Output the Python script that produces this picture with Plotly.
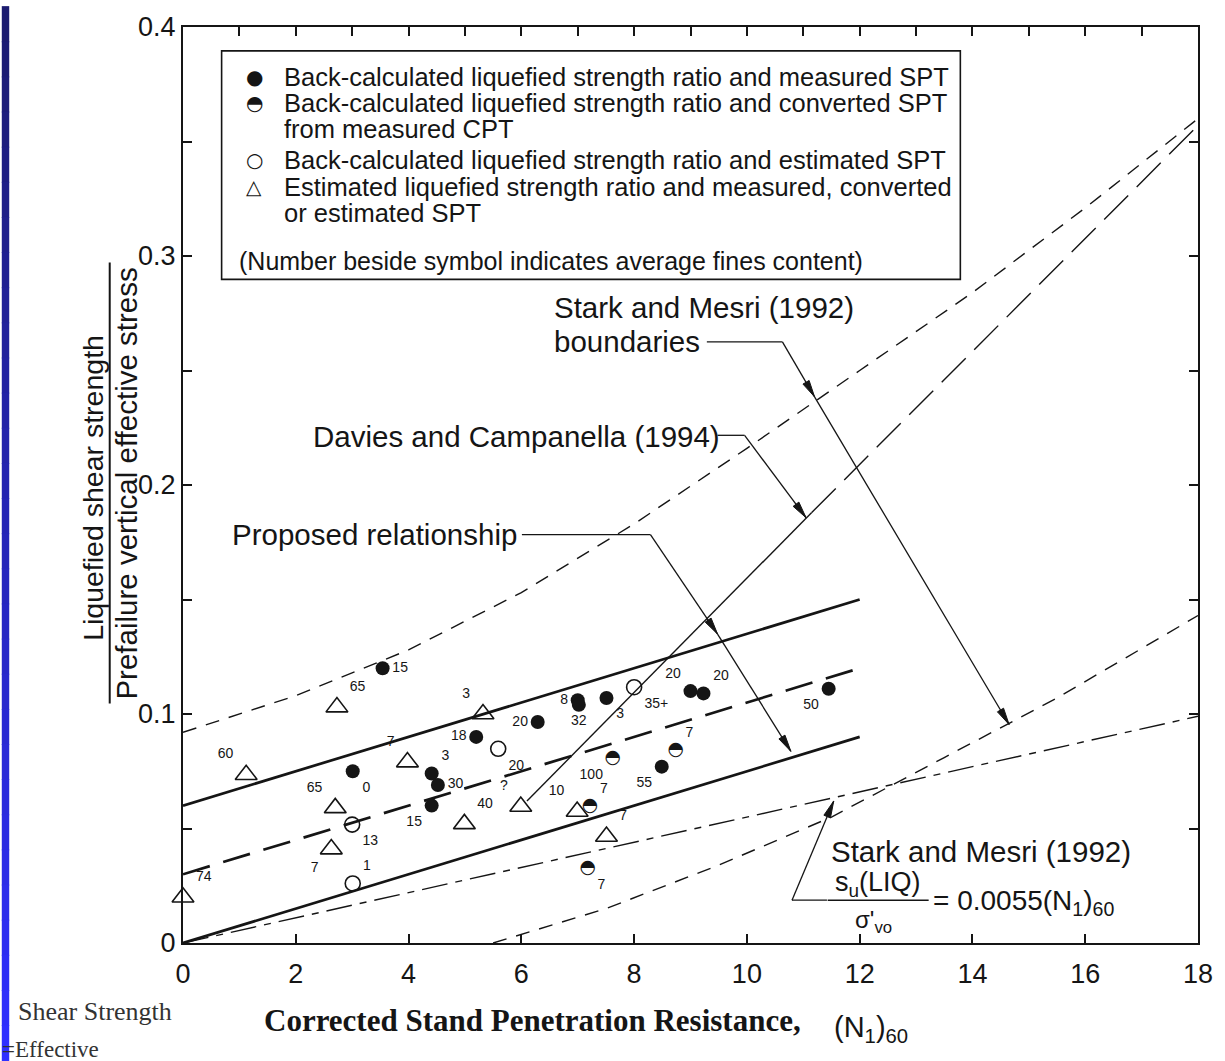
import math
import plotly.graph_objects as go

# ---------------- data ----------------
# Proposed relationship: centre line and band
prop_n = [0, 12]
prop_upper = [0.06, 0.15]
prop_mid = [0.03, 0.12]
prop_lower = [0.0, 0.09]

# Stark and Mesri (1992) boundaries
sm_up_n = [0, 2, 4, 6, 8, 10, 12, 14, 16, 18]
sm_up_r = [0.092, 0.108, 0.128, 0.153, 0.183, 0.216, 0.25, 0.284, 0.321, 0.36]
sm_lo_n = [5.5, 7.5, 9.5, 11.5, 13.5, 15.5, 18]
sm_lo_r = [0.0, 0.015, 0.034, 0.055, 0.081, 0.107, 0.143]

# Stark and Mesri (1992) su(LIQ)/s'vo = 0.0055 (N1)60
sm_line_n = [0, 18]
sm_line_r = [0.0, 0.099]

# Davies and Campanella (1994)
dc_solid_n = [6.1, 11.15]
dc_solid_r = [0.062, 0.188]
dc_dash_n = [11.15, 18]
dc_dash_r = [0.188, 0.357]

# Back-calculated strength ratio, measured SPT (filled circles)
meas_n = [3.54, 3.01, 4.41, 4.52, 4.41, 5.20, 6.29, 7.00, 7.02, 7.51, 9.00, 9.23, 11.45, 8.49]
meas_r = [0.120, 0.075, 0.074, 0.069, 0.060, 0.090, 0.0965, 0.106, 0.104, 0.107, 0.110, 0.109, 0.111, 0.077]
meas_fc = ["15", "0", "3", "30", "15", "18", "20", "8", "32", "3", "20", "20", "50", "55"]

# Back-calculated strength ratio, SPT converted from CPT (half-filled circles)
cpt_n = [7.62, 8.74, 7.22, 7.18]
cpt_r = [0.0806, 0.0843, 0.0596, 0.0326]
cpt_fc = ["100", "7", "7", "7"]

# Back-calculated strength ratio, estimated SPT (open circles)
est_n = [5.59, 8.00, 3.00, 3.01]
est_r = [0.0848, 0.1117, 0.0517, 0.026]
est_fc = ["20", "35+", "13", "1"]

# Estimated strength ratio (triangles)
tri_n = [2.73, 1.12, 3.98, 5.32, 4.99, 2.70, 2.63, 5.99, 6.99, 7.51, 0.0]
tri_r = [0.103, 0.0735, 0.079, 0.100, 0.052, 0.059, 0.041, 0.0596, 0.0574, 0.0465, 0.02]
tri_fc = ["65", "60", "7", "3", "40", "65", "7", "?", "10", "7", "74"]

x_tick_vals = [0, 2, 4, 6, 8, 10, 12, 14, 16, 18]
x_tick_text = ["0", "2", "4", "6", "8", "10", "12", "14", "16", "18"]
y_tick_vals = [0, 0.1, 0.2, 0.3, 0.4]
y_tick_text = ["0", "0.1", "0.2", "0.3", "0.4"]

# ---------------- styling helpers ----------------
W, H = 1225, 1061
L, R, T, B = 183, 17, 21, 118
PW, PH = W - L - R, H - T - B
XMAX, YMAX = 18, 0.4
INK = "#151515"
SANS = "Liberation Sans, Arial, Helvetica, sans-serif"
NARROW = "Liberation Sans Narrow, Arial Narrow, Liberation Sans, sans-serif"
SERIF = "Liberation Serif, Times New Roman, serif"


def pxx(x):
    return (x - L) / PW


def pxy(y):
    return (H - B - y) / PH


meas_pos = ["middle right", "bottom right", "top right", "middle right", "bottom left", "middle left",
            "middle left", "middle left", "bottom center", "bottom right", "top left", "top right",
            "bottom left", "bottom left"]
cpt_pos = ["bottom left", "top right", "top right", "bottom right"]
est_pos = ["bottom right", "bottom right", "bottom right", "top right"]
tri_pos = ["top right", "top left", "top left", "top left", "top right", "top left", "bottom left",
           "top left", "top left", "top right", "top right"]

fig = go.Figure()


def add_line(xs, ys, width, dash=None):
    fig.add_trace(go.Scatter(x=xs, y=ys, mode="lines", hoverinfo="skip", showlegend=False,
                             line=dict(color=INK, width=width, dash=dash)))


add_line(sm_up_n, sm_up_r, 1.4, "14px,10px")
add_line(sm_lo_n, sm_lo_r, 1.4, "14px,10px")
add_line(sm_line_n, sm_line_r, 1.4, "26px,8px,7px,8px")
add_line(dc_solid_n, dc_solid_r, 1.4)
add_line(dc_dash_n, dc_dash_r, 1.4, "34px,12px")
add_line(prop_n, prop_upper, 2.7)
add_line(prop_n, prop_mid, 2.7, "28px,14px")
add_line(prop_n, prop_lower, 2.7)

lab_font = dict(family=NARROW, size=14, color=INK)

fig.add_trace(go.Scatter(x=meas_n, y=meas_r, mode="markers+text", text=meas_fc, textposition=meas_pos,
                         textfont=lab_font, hoverinfo="skip", showlegend=False,
                         marker=dict(symbol="circle", size=14, color=INK)))
fig.add_trace(go.Scatter(x=est_n, y=est_r, mode="markers+text", text=est_fc, textposition=est_pos,
                         textfont=lab_font, hoverinfo="skip", showlegend=False,
                         marker=dict(symbol="circle-open", size=15, color=INK, line=dict(width=1.6))))
fig.add_trace(go.Scatter(x=tri_n, y=tri_r, mode="markers+text", text=tri_fc, textposition=tri_pos,
                         textfont=lab_font, hoverinfo="skip", showlegend=False, cliponaxis=False,
                         marker=dict(symbol="triangle-up-open", size=19, color=INK, line=dict(width=1.6))))
# half-filled circles: glyph plus labels
fig.add_trace(go.Scatter(x=cpt_n, y=cpt_r, mode="text", text=["◓"] * len(cpt_n),
                         textposition="middle center", hoverinfo="skip", showlegend=False,
                         textfont=dict(family="DejaVu Sans", size=19, color=INK)))
fig.add_trace(go.Scatter(x=cpt_n, y=cpt_r, mode="markers+text", text=cpt_fc, textposition=cpt_pos,
                         textfont=lab_font, hoverinfo="skip", showlegend=False,
                         marker=dict(symbol="circle", size=14, color="rgba(0,0,0,0)")))
# dummy trace so the top axis (ticks every unit) is drawn
fig.add_trace(go.Scatter(x=[0], y=[0], xaxis="x2", mode="markers", marker=dict(opacity=0),
                         hoverinfo="skip", showlegend=False))

shapes = []
annotations = []

# left blue strip
n_seg = 30
for i in range(n_seg):
    f = i / (n_seg - 1)
    r_ = int(28 + (48 - 28) * f)
    g_ = int(28 + (48 - 28) * f)
    b_ = int(112 + (255 - 112) * f)
    shapes.append(dict(type="rect", xref="paper", yref="paper", x0=pxx(0), x1=pxx(7.5),
                       y0=pxy(i * H / n_seg), y1=pxy((i + 1) * H / n_seg + 1),
                       fillcolor=f"rgb({r_},{g_},{b_})", line=dict(width=0), layer="below"))

# legend box
shapes.append(dict(type="rect", xref="paper", yref="paper", x0=pxx(222), x1=pxx(968), y0=pxy(275), y1=pxy(45),
                   line=dict(color=INK, width=1.6), fillcolor="white", layer="above"))
leg_lines = [
    ("●", "Back-calculated liquefied strength ratio and measured SPT", 71),
    ("◓", "Back-calculated liquefied strength ratio and converted SPT", 98),
    (None, "from measured CPT", 124),
    ("○", "Back-calculated liquefied strength ratio and estimated SPT", 155),
    ("△", "Estimated liquefied strength ratio and measured, converted", 182),
    (None, "or estimated SPT", 208),
]
leg_font = dict(family=SANS, size=25.5, color=INK)
for sym, txt, yy in leg_lines:
    if sym:
        annotations.append(dict(xref="paper", yref="paper", x=pxx(255), y=pxy(yy), text=sym, showarrow=False,
                                xanchor="center", yanchor="middle",
                                font=dict(family="DejaVu Sans", size=20, color=INK)))
    annotations.append(dict(xref="paper", yref="paper", x=pxx(283), y=pxy(yy), text=txt, showarrow=False,
                            xanchor="left", yanchor="middle", font=leg_font))
annotations.append(dict(xref="paper", yref="paper", x=pxx(238), y=pxy(257),
                        text="(Number beside symbol indicates average fines content)", showarrow=False,
                        xanchor="left", yanchor="middle", font=dict(family=SANS, size=25, color=INK)))

big = dict(family=SANS, size=29.5, color=INK)
annotations += [
    dict(xref="paper", yref="paper", x=pxx(556), y=pxy(303), text="Stark and Mesri (1992)", showarrow=False,
         xanchor="left", yanchor="middle", font=big),
    dict(xref="paper", yref="paper", x=pxx(556), y=pxy(338), text="boundaries", showarrow=False,
         xanchor="left", yanchor="middle", font=big),
    dict(xref="paper", yref="paper", x=pxx(312), y=pxy(433), text="Davies and Campanella (1994)",
         showarrow=False, xanchor="left", yanchor="middle", font=big),
    dict(xref="paper", yref="paper", x=pxx(230), y=pxy(532), text="Proposed relationship", showarrow=False,
         xanchor="left", yanchor="middle", font=big),
    dict(xref="paper", yref="paper", x=pxx(835), y=pxy(851), text="Stark and Mesri (1992)", showarrow=False,
         xanchor="left", yanchor="middle", font=big),
    dict(xref="paper", yref="paper", x=pxx(885), y=pxy(884), text="s<sub>u</sub>(LIQ)", showarrow=False,
         xanchor="center", yanchor="middle", font=dict(family=SANS, size=27, color=INK)),
    dict(xref="paper", yref="paper", x=pxx(880), y=pxy(921), text="σ'<sub>vo</sub>", showarrow=False,
         xanchor="center", yanchor="middle", font=dict(family=SANS, size=24, color=INK)),
    dict(xref="paper", yref="paper", x=pxx(938), y=pxy(902), text="= 0.0055(N<sub>1</sub>)<sub>60</sub>",
         showarrow=False, xanchor="left", yanchor="middle", font=dict(family=SANS, size=28, color=INK)),
    # axis titles
    dict(xref="paper", yref="paper", x=pxx(92), y=pxy(485), text="Liquefied shear strength", showarrow=False,
         textangle=-90, xanchor="center", yanchor="middle", font=dict(family=SANS, size=28.5, color=INK)),
    dict(xref="paper", yref="paper", x=pxx(125), y=pxy(481), text="Prefailure vertical effective stress",
         showarrow=False, textangle=-90, xanchor="center", yanchor="middle",
         font=dict(family=SANS, size=29.5, color=INK)),
    dict(xref="paper", yref="paper", x=pxx(263), y=pxy(1021), text="<b>Corrected Stand Penetration Resistance,</b>",
         showarrow=False, xanchor="left", yanchor="middle", font=dict(family=SERIF, size=31, color=INK)),
    dict(xref="paper", yref="paper", x=pxx(838), y=pxy(1030), text="(N<sub>1</sub>)<sub>60</sub>",
         showarrow=False, xanchor="left", yanchor="middle", font=dict(family=SANS, size=29, color=INK)),
    dict(xref="paper", yref="paper", x=pxx(14), y=pxy(1012), text="Shear Strength", showarrow=False,
         xanchor="left", yanchor="middle", font=dict(family=SERIF, size=26, color="#333")),
    dict(xref="paper", yref="paper", x=pxx(-2), y=pxy(1050), text="=Effective", showarrow=False,
         xanchor="left", yanchor="middle", font=dict(family=SERIF, size=23, color="#333")),
]

# fraction bars
shapes.append(dict(type="line", xref="paper", yref="paper", x0=pxx(109), x1=pxx(109), y0=pxy(258), y1=pxy(702),
                   line=dict(color=INK, width=2)))
shapes.append(dict(type="line", xref="paper", yref="paper", x0=pxx(834), x1=pxx(936), y0=pxy(900), y1=pxy(900),
                   line=dict(color=INK, width=1.6)))

# leader lines and arrowheads (data coordinates)
UX, UY = PW / XMAX, PH / YMAX   # pixels per data unit


def seg(x0, y0, x1, y1):
    shapes.append(dict(type="line", xref="x", yref="y", x0=x0, y0=y0, x1=x1, y1=y1,
                       line=dict(color=INK, width=1.3)))


def arrow(x0, y0, x1, y1, length=17, half=3.6):
    seg(x0, y0, x1, y1)
    dx, dy = (x1 - x0) * UX, (y1 - y0) * UY
    d = math.hypot(dx, dy)
    ux, uy = dx / d, dy / d
    bx, by = -ux * length, -uy * length
    px_, py_ = -uy * half, ux * half
    pts = [(0, 0), (bx + px_, by + py_), (bx - px_, by - py_)]
    path = "M " + " L ".join(f"{x1 + a / UX},{y1 + b / UY}" for a, b in pts) + " Z"
    shapes.append(dict(type="path", xref="x", yref="y", path=path, fillcolor=INK,
                       line=dict(color=INK, width=1)))


# Stark & Mesri boundaries leader
seg(9.29, 0.2625, 10.63, 0.2625)
arrow(10.63, 0.2625, 11.2, 0.2385)
arrow(11.2, 0.2385, 14.65, 0.0954)
# Davies & Campanella leader
seg(9.48, 0.2217, 9.96, 0.2217)
arrow(9.96, 0.2217, 11.05, 0.1857)
# Proposed relationship leader
seg(6.01, 0.1783, 8.29, 0.1783)
arrow(8.29, 0.1783, 9.48, 0.1349)
arrow(9.48, 0.1349, 10.78, 0.0837)
# Stark & Mesri line leader
seg(11.42, 0.0187, 10.80, 0.0187)
arrow(10.80, 0.0187, 11.54, 0.062)

tick_font = dict(family=SANS, size=27, color=INK)
fig.update_layout(
    width=W, height=H, margin=dict(l=L, r=R, t=T, b=B, pad=0),
    paper_bgcolor="white", plot_bgcolor="white", showlegend=False,
    shapes=shapes, annotations=annotations,
    xaxis=dict(range=[0, XMAX], tickvals=x_tick_vals, ticktext=x_tick_text, ticks="inside", ticklen=9,
               tickwidth=1.5, tickcolor=INK, showline=True, linewidth=2, linecolor=INK, mirror=True,
               showgrid=False, zeroline=False, tickfont=tick_font, ticklabelstandoff=6),
    xaxis2=dict(range=[0, XMAX], overlaying="x", side="top", tick0=0, dtick=1, ticks="inside", ticklen=9,
                tickwidth=1.5, tickcolor=INK, showticklabels=False, showgrid=False, zeroline=False,
                showline=False),
    yaxis=dict(range=[0, YMAX], tickvals=y_tick_vals, ticktext=y_tick_text, ticks="inside", ticklen=9,
               tickwidth=1.5, tickcolor=INK, showline=True, linewidth=2, linecolor=INK, mirror="ticks",
               showgrid=False, zeroline=False, tickfont=tick_font, ticklabelstandoff=0,
               minor=dict(tick0=0, dtick=0.05, ticks="inside", ticklen=9, tickwidth=1.5, tickcolor=INK,
                          showgrid=False)),
)

fig.write_html("out.html")
